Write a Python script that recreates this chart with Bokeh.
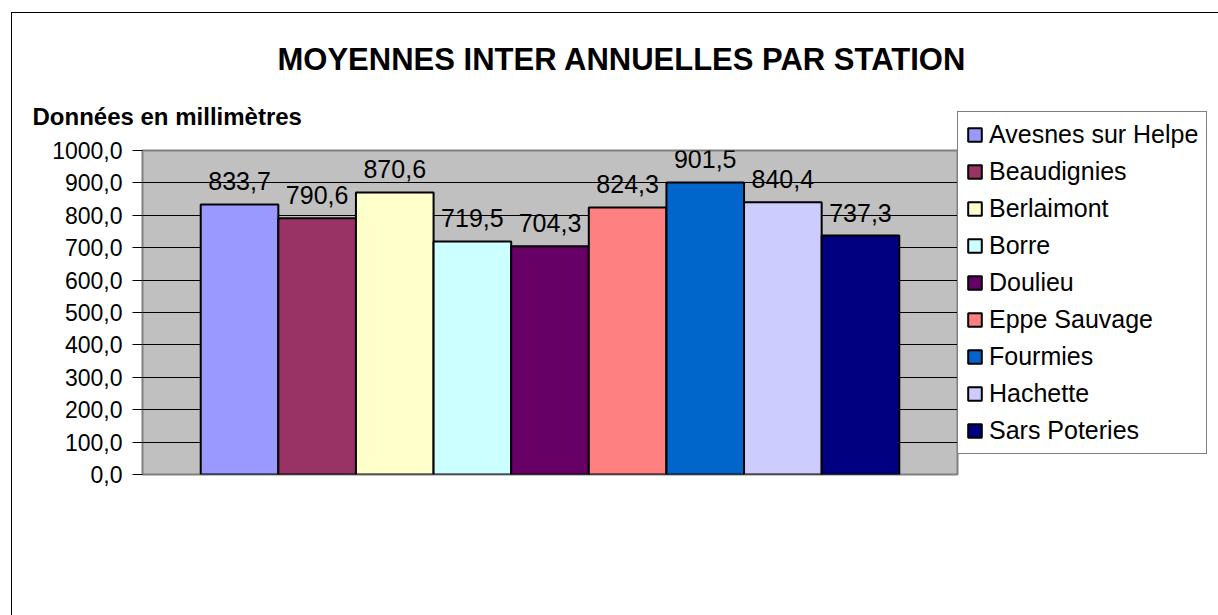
from bokeh.plotting import figure
from bokeh.models import (ColumnDataSource, Range1d, FixedTicker, CustomJSTickFormatter,
                          LabelSet, Legend, LegendItem, Title, CDSView, IndexFilter)
from bokeh.core.properties import value
from bokeh.embed import file_html
from bokeh.resources import INLINE

# ---- data ----
stations = ["Avesnes sur Helpe", "Beaudignies", "Berlaimont", "Borre", "Doulieu",
            "Eppe Sauvage", "Fourmies", "Hachette", "Sars Poteries"]
values = [833.7, 790.6, 870.6, 719.5, 704.3, 824.3, 901.5, 840.4, 737.3]
colors = ["#9999FF", "#993366", "#FFFFCC", "#CCFFFF", "#660066",
          "#FF8080", "#0066CC", "#CCCCFF", "#000080"]
y_ticks = [0, 100, 200, 300, 400, 500, 600, 700, 800, 900, 1000]
title_text = "MOYENNES INTER ANNUELLES PAR STATION"
unit_text = "Données en millimètres"

FONT = "Liberation Sans"

positions = [i + 0.5 for i in range(len(stations))]
labels = [f"{v:.1f}".replace(".", ",") for v in values]
src = ColumnDataSource(dict(x=positions, top=values, color=colors, name=stations, label=labels))

p = figure(frame_width=815, frame_height=324, output_backend="svg", toolbar_location=None,
           x_range=Range1d(-0.75, len(stations) + 0.75), y_range=Range1d(0, 1000),
           min_border_left=130, min_border_top=137, min_border_right=260, min_border_bottom=141,
           title=None, margin=(12, 0, 0, 11),
           styles={"border-left": "1px solid black", "border-top": "1px solid black"})
p.background_fill_color = "#C0C0C0"
p.border_fill_color = "white"
p.outline_line_color = "#808080"
p.outline_line_width = 2

p.xaxis.visible = False
p.xgrid.visible = False
p.ygrid.grid_line_color = "black"
p.ygrid.grid_line_width = 1
p.yaxis.ticker = FixedTicker(ticks=y_ticks)
p.yaxis.formatter = CustomJSTickFormatter(code="return tick.toFixed(1).replace('.', ',');")
p.yaxis.axis_line_color = None
p.yaxis.major_tick_out = 10
p.yaxis.major_tick_in = 0
p.yaxis.minor_tick_line_color = None
p.yaxis.major_tick_line_color = "black"
p.yaxis.major_label_text_font = FONT
p.yaxis.major_label_text_font_size = "23px"
p.yaxis.major_label_text_color = "black"
p.yaxis.major_label_standoff = 10

# bars: one renderer per station (one series each, as in the original chart)
items = []
for i, (name, c) in enumerate(zip(stations, colors)):
    r = p.vbar(x="x", top="top", bottom=0, width=1.0, source=src,
               view=CDSView(filter=IndexFilter([i])),
               fill_color=c, line_color="black", line_width=2)
    items.append(LegendItem(label=name, renderers=[r]))

# data labels
p.add_layout(LabelSet(x="x", y="top", text="label", source=src, y_offset=14,
                      text_align="center", text_baseline="alphabetic",
                      text_font=value(FONT), text_font_size=value("25px"),
                      text_color="black"))

legend = Legend(items=items, location=(0, 20), orientation="vertical",
                label_text_font=FONT, label_text_font_size="25px", label_text_color="black",
                glyph_width=17, glyph_height=17, label_height=29, label_standoff=6,
                spacing=8, padding=8, margin=0,
                border_line_color="black", border_line_width=1,
                background_fill_color="white", background_fill_alpha=1)
p.add_layout(legend, "right")

# titles (first added is nearest the frame)
p.add_layout(Title(text=unit_text, align="left", offset=-110, standoff=41,
                   text_font=FONT, text_font_size="24px", text_font_style="bold",
                   text_color="black"), "above")
p.add_layout(Title(text=title_text, align="left", offset=135, standoff=7,
                   text_font=FONT, text_font_size="31px", text_font_style="bold",
                   text_color="black"), "above")

open("out.html", "w").write(file_html(p, INLINE))
